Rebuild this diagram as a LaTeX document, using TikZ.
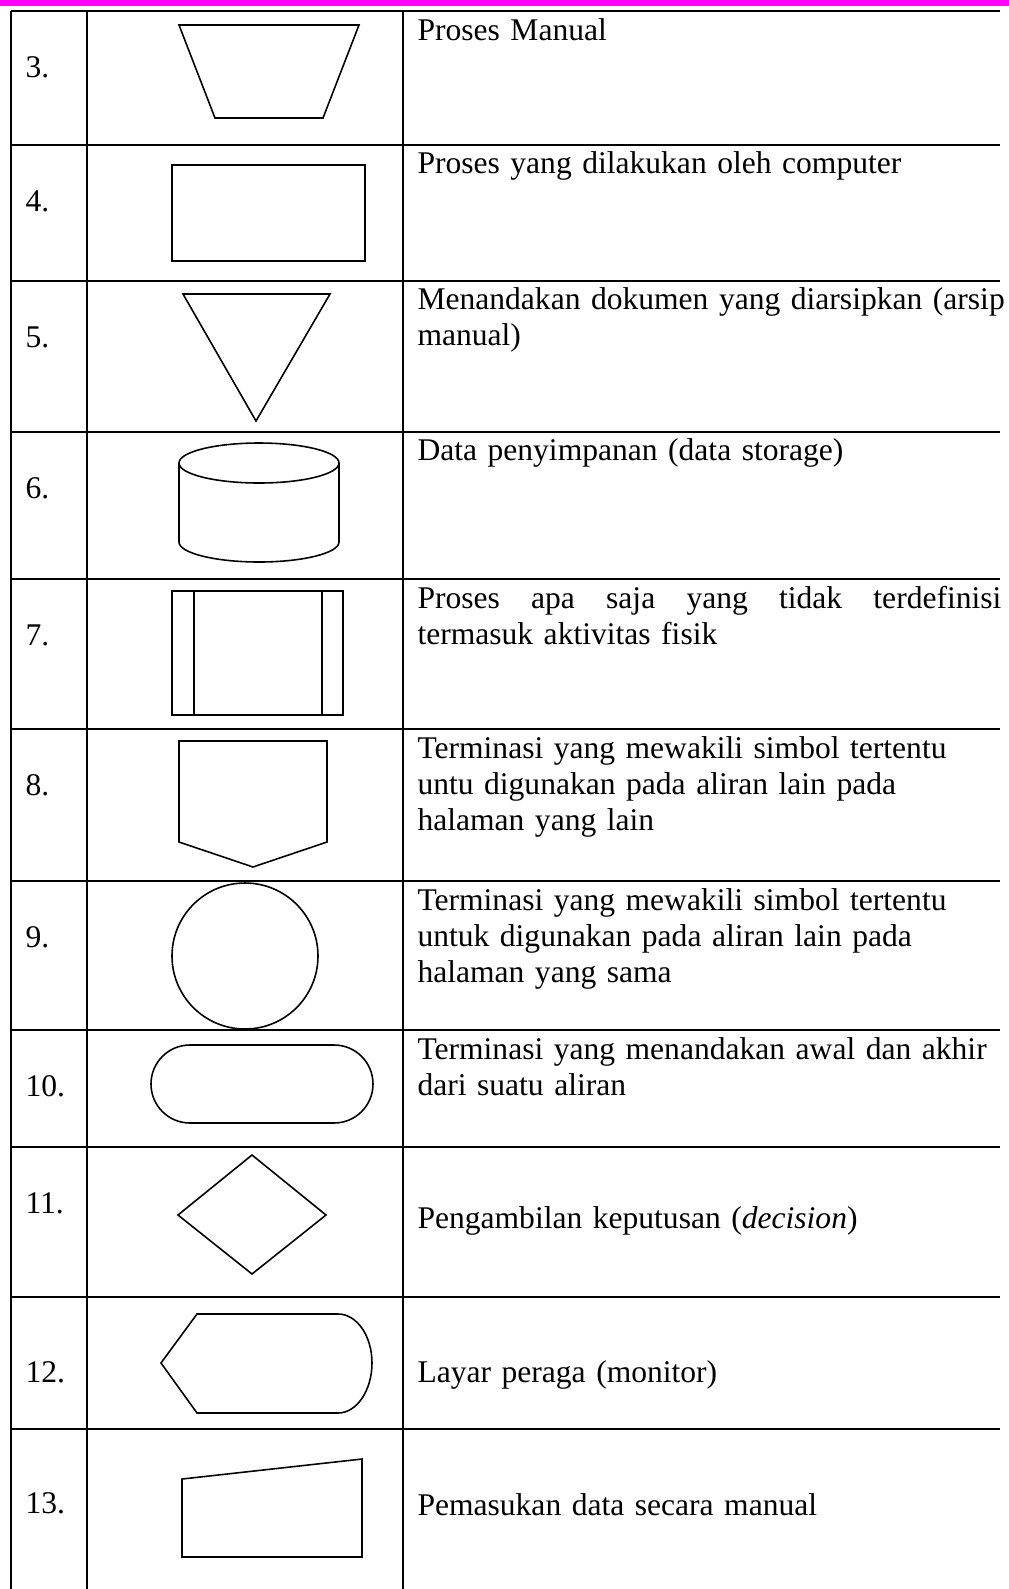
\documentclass[tikz,border=0pt]{standalone}
\usepackage{fontspec}
\setmainfont{Liberation Serif}
\definecolor{ungu}{RGB}{255,0,255}
\begin{document}
\begin{tikzpicture}[x=0.3802pt,y=-0.3802pt,
	every node/.style={inner sep=0pt,font=\fontsize{12}{13.7}\selectfont},
	ket/.style={anchor=base west,text width=240pt,align=left},
	garis/.style={line width=0.8pt},
	simbol/.style={line width=0.6pt}]
	\useasboundingbox (0,0) rectangle (1009,1589);
	\fill[ungu] (0,0) rectangle (1009,5.5);
	% garis tabel
	\foreach \y in {11,145,281,432,579,729,881,1030,1147,1297,1429}
	\draw[garis] (11,\y) -- (1000,\y);
	\foreach \x in {11,87,403} \draw[garis] (\x,11) -- (\x,1589);
	% nomor
	\foreach \n/\y in {3/77,4/211,5/347,6/498,7/645,8/795,9/947,10/1096,11/1213,12/1382,13/1513}
	\node[anchor=base west] (no\n) at (25,\y) {\n.};
	% simbol
	\draw[simbol] (179,25) -- (359,25) -- (323,118) -- (215,118) -- cycle;
	\draw[simbol] (172,165) rectangle (365,261);
	\draw[simbol] (183,294) -- (330,294) -- (256,421) -- cycle;
	\draw[simbol] (259,463) ellipse [x radius=80,y radius=20];
	\draw[simbol] (179,463) -- (179,542) .. controls (179,553) and (215,562) .. (259,562)
		.. controls (303,562) and (339,553) .. (339,542) -- (339,463);
	\draw[simbol] (172,591) rectangle (343,715);
	\draw[simbol] (194,591) -- (194,715);
	\draw[simbol] (322,591) -- (322,715);
	\draw[simbol] (179,741) -- (327,741) -- (327,842) -- (253,867) -- (179,842) -- cycle;
	\draw[simbol] (245,956) circle [radius=73];
	\draw[simbol,rounded corners=14.8pt] (151,1045) rectangle (373,1123);
	\draw[simbol] (252,1155) -- (326,1215) -- (252,1274) -- (178,1215) -- cycle;
	\draw[simbol] (161,1363) -- (197,1314) -- (338,1314) .. controls (357,1314) and (372,1336) .. (372,1363)
		.. controls (372,1390) and (357,1413) .. (338,1413) -- (197,1413) -- cycle;
	\draw[simbol] (182,1479) -- (362,1459) -- (362,1557) -- (182,1557) -- cycle;
	% keterangan
	\node[ket] (ket3) at (417,40) {Proses Manual};
	\node[ket] (ket4) at (417,173) {Proses yang dilakukan oleh computer};
	\node[ket] (ket5) at (417,309) {Menandakan dokumen yang diarsipkan (arsip\\manual)};
	\node[ket] (ket6) at (417,460) {Data penyimpanan (data storage)};
	\node[ket] (ket7) at (417,608) {\makebox[222pt][l]{Proses\hfill apa\hfill saja\hfill yang\hfill tidak\hfill terdefinisi}\\termasuk aktivitas fisik};
	\node[ket] (ket8) at (417,758) {Terminasi yang mewakili simbol tertentu\\untu digunakan pada aliran lain pada\\halaman yang lain};
	\node[ket] (ket9) at (417,910) {Terminasi yang mewakili simbol tertentu\\untuk digunakan pada aliran lain pada\\halaman yang sama};
	\node[ket] (ket10) at (417,1059) {Terminasi yang menandakan awal dan akhir\\dari suatu aliran};
	\node[ket] (ket11) at (417,1228) {Pengambilan keputusan (\textit{decision})};
	\node[ket] (ket12) at (417,1382) {Layar peraga (monitor)};
	\node[ket] (ket13) at (417,1515) {Pemasukan data secara manual};
\end{tikzpicture}
\end{document}
